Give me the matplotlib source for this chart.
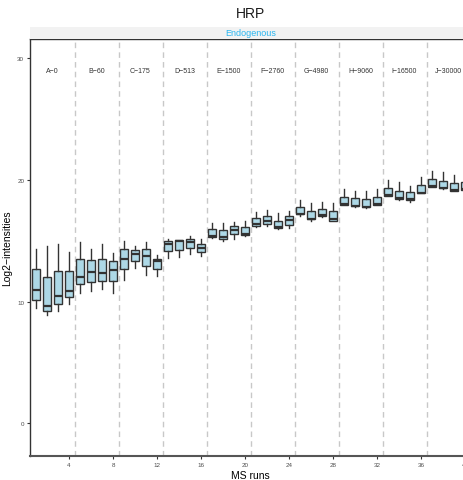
import matplotlib
matplotlib.use("Agg")
import matplotlib.pyplot as plt

plt.rcParams['font.family'] = ['Liberation Sans', 'DejaVu Sans']

title = "HRP"
strip_label = "Endogenous"
x_label = "MS runs"
y_label = "Log2\u2212intensities"

runs = list(range(1, 41))
groups = ["A\u22120", "B\u221260", "C\u2212175", "D\u2212513", "E\u22121500",
          "F\u22122760", "G\u22124980", "H\u22129060", "I\u221216500", "J\u221230000"]

whislo = [9.43, 8.93, 9.20, 9.78, 10.71, 10.88, 11.07, 10.71,
          11.80, 12.76, 12.21, 12.11, 13.61, 13.66, 13.88, 13.75,
          15.22, 14.98, 15.11, 15.43, 16.12, 16.20, 15.98, 16.04,
          17.07, 16.66, 16.94, 16.60, 17.90, 17.81, 17.70, 17.95,
          18.66, 18.39, 18.22, 18.90, 19.40, 19.26, 19.07, 19.15]
q1 = [10.16, 9.24, 9.78, 10.33, 11.42, 11.61, 11.70, 11.66,
      12.65, 13.30, 12.93, 12.70, 14.16, 14.26, 14.40, 14.07,
      15.30, 15.11, 15.52, 15.49, 16.20, 16.39, 16.04, 16.31,
      17.16, 16.75, 17.02, 16.66, 17.95, 17.84, 17.76, 17.98,
      18.71, 18.44, 18.36, 18.93, 19.45, 19.32, 19.12, 19.20]
med = [10.93, 9.59, 10.43, 10.87, 12.05, 12.43, 12.35, 12.60,
       13.52, 13.93, 13.71, 13.30, 14.75, 14.98, 14.89, 14.43,
       15.38, 15.30, 15.90, 15.55, 16.34, 16.66, 16.10, 16.72,
       17.20, 16.80, 17.10, 16.80, 18.00, 17.87, 17.80, 18.02,
       18.77, 18.50, 18.42, 18.96, 19.48, 19.34, 19.15, 19.25]
q3 = [12.65, 12.02, 12.54, 12.51, 13.47, 13.39, 13.47, 13.30,
      14.29, 14.21, 14.29, 13.52, 14.94, 15.02, 15.11, 14.70,
      15.93, 15.85, 16.25, 16.11, 16.86, 17.07, 16.66, 17.02,
      17.81, 17.43, 17.62, 17.48, 18.63, 18.50, 18.44, 18.63,
      19.34, 19.12, 18.99, 19.59, 20.08, 19.94, 19.75, 19.80]
whishi = [14.34, 14.57, 14.70, 14.07, 14.89, 14.34, 14.70, 13.99,
          14.98, 14.57, 14.89, 13.80, 15.16, 15.10, 15.43, 15.11,
          16.48, 16.48, 16.58, 16.64, 17.35, 17.57, 17.27, 17.43,
          18.39, 18.11, 18.22, 18.11, 19.26, 19.07, 19.07, 19.26,
          20.00, 19.80, 19.48, 20.27, 20.71, 20.63, 20.41, 20.30]

x_ticks = [4, 8, 12, 16, 20, 24, 28, 32, 36, 40]
y_ticks = [0, 10, 20, 30]

W, H = 464, 481
fig = plt.figure(figsize=(W / 100, H / 100), dpi=100)
ax = fig.add_axes([30.5 / W, 1 - 456.5 / H, 440 / W, (456.5 - 39.5) / H])

stats = []
for i in range(len(runs)):
    stats.append(dict(whislo=whislo[i], q1=q1[i], med=med[i], q3=q3[i],
                      whishi=whishi[i], fliers=[]))

ax.bxp(stats, positions=runs, widths=0.72, showcaps=False, patch_artist=True,
       boxprops=dict(facecolor='#ADD8E6', edgecolor='#333333', linewidth=1.0),
       medianprops=dict(color='#333333', linewidth=1.6),
       whiskerprops=dict(color='#333333', linewidth=1.0),
       manage_ticks=False, zorder=3)

n_per = 4
for k in range(1, len(groups)):
    ax.axvline(k * n_per + 0.5, color='#C8C8C8', linestyle=(0, (4, 3)),
               linewidth=1.0, zorder=1)
for k, g in enumerate(groups):
    ax.text(k * n_per + 2.5, 29.0, g, ha='center', va='center',
            fontsize=5, color='#333333')

ax.set_xlim(0.5, 40.5)
ax.set_ylim(-2.67, 31.64)
ax.set_xticks(x_ticks)
ax.set_yticks(y_ticks)
ax.tick_params(axis='both', labelsize=4.5, colors='#333333', length=2.5,
               width=0.8, pad=2, labelcolor='#4D4D4D')

for s in ['right']:
    ax.spines[s].set_visible(False)
ax.spines['left'].set_color('#333333')
ax.spines['bottom'].set_color('#555555')
ax.spines['bottom'].set_linewidth(1.5)
ax.spines['left'].set_linewidth(1.0)
ax.spines['top'].set_color('#333333')
ax.spines['top'].set_linewidth(1.0)

ax.set_xlabel(x_label, fontsize=7.5, labelpad=2)
ax.set_ylabel(y_label, fontsize=7.5, labelpad=4)

# strip
strip = fig.add_axes([30.5 / W, 1 - 39.5 / H, 440 / W, 11.5 / H])
strip.set_facecolor('#F2F2F2')
strip.set_xticks([])
strip.set_yticks([])
for s in strip.spines.values():
    s.set_visible(False)
strip.text(0.5, 0.5, strip_label, transform=strip.transAxes, ha='center',
           va='center', fontsize=6.5, color='#29B6F0')

fig.text(0.5 * (30.5 + 470.5) / W, 1 - 14 / H, title, ha='center', va='center',
         fontsize=10, color='#1A1A1A')

fig.savefig("out.png", dpi=100)
